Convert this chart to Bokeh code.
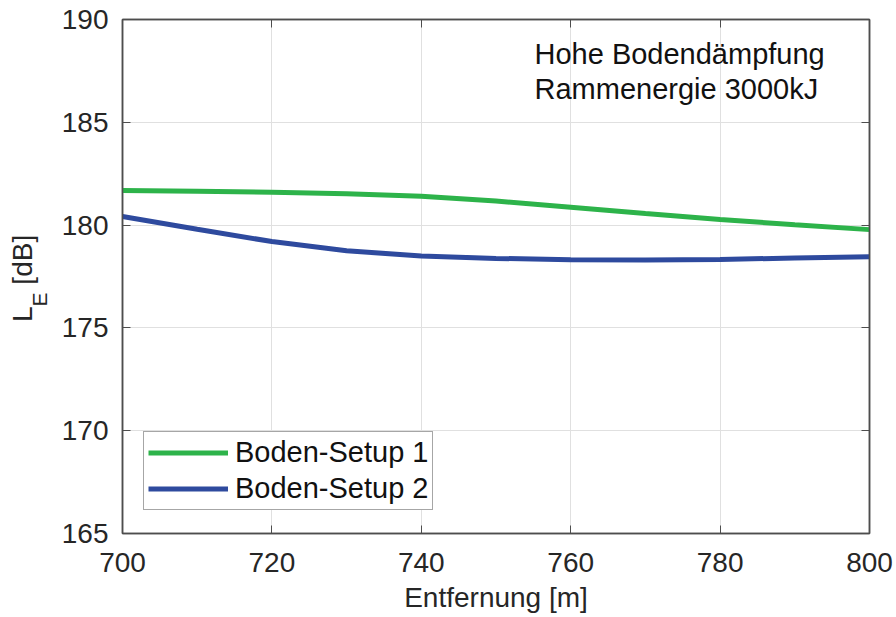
from bokeh.plotting import figure
from bokeh.models import Range1d, Label, Legend, LegendItem, FixedTicker, Div, LinearAxis
from bokeh.layouts import row
from bokeh.embed import file_html
from bokeh.resources import INLINE

dist = [700, 710, 720, 730, 740, 750, 760, 770, 780, 790, 800]
setup1 = [181.68, 181.65, 181.60, 181.53, 181.40, 181.17, 180.87, 180.56, 180.27, 180.02, 179.78]
setup2 = [180.42, 179.80, 179.20, 178.75, 178.50, 178.38, 178.32, 178.30, 178.33, 178.40, 178.46]
x_ticks = [700, 720, 740, 760, 780, 800]
y_ticks = [165, 170, 175, 180, 185, 190]

FONT = "Liberation Sans"
DIV_W = 55

p = figure(width=896 - DIV_W, height=617, output_backend="svg", toolbar_location=None,
           x_range=Range1d(700, 800), y_range=Range1d(165, 190),
           min_border_left=122 - DIV_W, min_border_right=27, min_border_top=19, min_border_bottom=84)
p.background_fill_color = "white"
p.border_fill_color = "white"
p.outline_line_color = "#4d4d4d"
p.outline_line_width = 1.5

bottom_ax = p.below[0]
left_ax = p.left[0]

l1 = p.line(dist, setup1, line_color="#2db34a", line_width=5)
l2 = p.line(dist, setup2, line_color="#2e4a9e", line_width=5)

# mirrored box axes (ticks only) on top and right
top_ax = LinearAxis(ticker=FixedTicker(ticks=x_ticks),
                    major_label_overrides={t: "" for t in x_ticks})
right_ax = LinearAxis(ticker=FixedTicker(ticks=y_ticks),
                      major_label_overrides={t: "" for t in y_ticks})
for ax in (top_ax, right_ax):
    ax.major_label_text_font_size = "0px"
    ax.major_label_standoff = 0
p.add_layout(top_ax, "above")
p.add_layout(right_ax, "right")

for ax in (bottom_ax, left_ax, top_ax, right_ax):
    ax.axis_line_color = "#4d4d4d"
    ax.axis_line_width = 1.5
    ax.major_tick_in = 8
    ax.major_tick_out = 0
    ax.major_tick_line_color = "#4d4d4d"
    ax.minor_tick_line_color = None
for ax in (bottom_ax, left_ax):
    ax.major_label_text_font = FONT
    ax.major_label_text_font_size = "28px"
    ax.major_label_text_color = "#262626"
bottom_ax.ticker = FixedTicker(ticks=x_ticks)
left_ax.ticker = FixedTicker(ticks=y_ticks)
bottom_ax.major_label_standoff = 19
left_ax.major_label_standoff = 14

bottom_ax.axis_label = "Entfernung [m]"
bottom_ax.axis_label_text_font = FONT
bottom_ax.axis_label_text_font_size = "28px"
bottom_ax.axis_label_text_font_style = "normal"
bottom_ax.axis_label_text_color = "#262626"
bottom_ax.axis_label_standoff = 7

p.grid.grid_line_color = "#e0e0e0"
p.grid.grid_line_width = 1

p.add_layout(Label(x=412, y=464, x_units="screen", y_units="screen",
                   text="Hohe Bodendämpfung", text_font=FONT, text_font_size="29px",
                   text_color="#111111"))
p.add_layout(Label(x=412, y=429, x_units="screen", y_units="screen",
                   text="Rammenergie 3000kJ", text_font=FONT, text_font_size="29px",
                   text_color="#111111"))

legend = Legend(items=[LegendItem(label="Boden-Setup 1", renderers=[l1]),
                       LegendItem(label="Boden-Setup 2", renderers=[l2])],
                location=(21, 23))
legend.label_text_font = FONT
legend.label_text_font_size = "29px"
legend.label_text_color = "#111111"
legend.border_line_color = "#4d4d4d"
legend.border_line_width = 1.5
legend.glyph_width = 80
legend.glyph_height = 31
legend.label_height = 31
legend.spacing = 3
legend.padding = 4
legend.margin = 0
legend.label_standoff = 7
legend.background_fill_alpha = 1
p.add_layout(legend)

ylabel_html = (
    '<div style="position:absolute; left:9px; top:322px; transform-origin:0 0; '
    'transform:rotate(-90deg); white-space:nowrap; font-family:\'Liberation Sans\'; '
    'font-size:28px; line-height:28px; color:#262626;">'
    'L<span style="position:relative; top:15px; font-size:21px;">E</span> [dB]</div>'
)
ylab = Div(text=ylabel_html, width=DIV_W, height=617, margin=0,
           styles={"position": "relative", "overflow": "visible", "background-color": "white"})

layout = row(ylab, p, spacing=0)
open("out.html", "w").write(file_html(layout, INLINE))
